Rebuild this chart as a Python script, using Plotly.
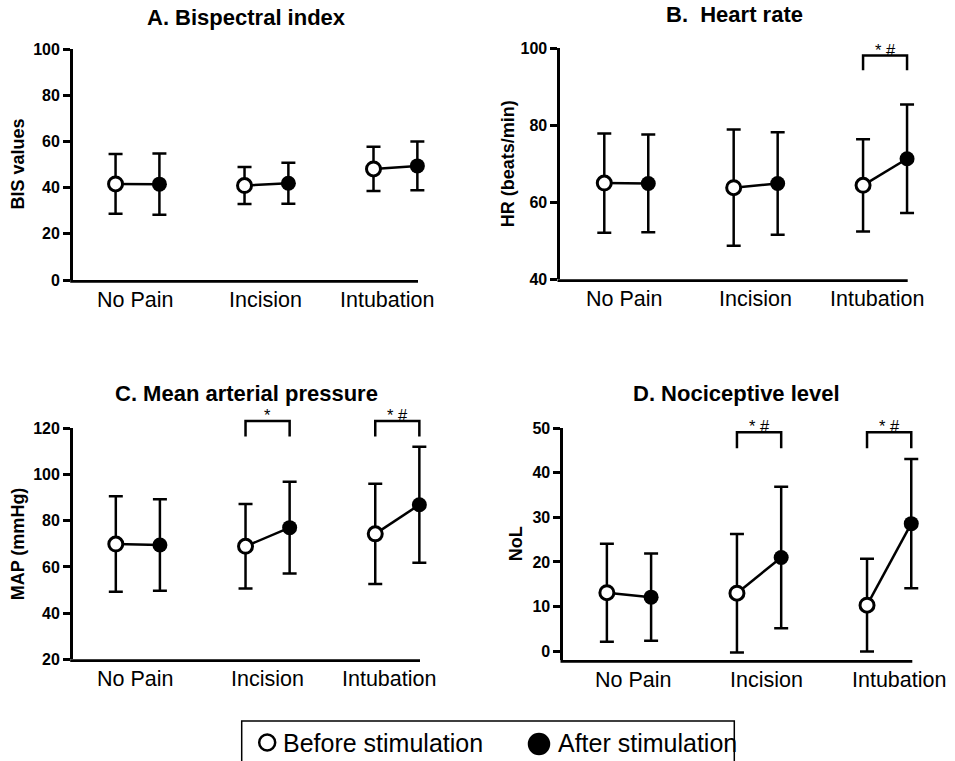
import plotly.graph_objects as go

# ---------------- data ----------------
categories = ["No Pain", "Incision", "Intubation"]

bis_before_mean = [41.6, 40.9, 48.1]
bis_before_sd = [12.9, 8.0, 9.6]
bis_after_mean = [41.5, 41.9, 49.4]
bis_after_sd = [13.3, 8.9, 10.6]

hr_before_mean = [65.0, 63.8, 64.4]
hr_before_sd = [12.9, 15.1, 12.0]
hr_after_mean = [64.9, 64.9, 71.3]
hr_after_sd = [12.7, 13.3, 14.1]

map_before_mean = [69.9, 68.9, 74.3]
map_before_sd = [20.7, 18.3, 21.7]
map_after_mean = [69.5, 77.0, 86.9]
map_after_sd = [19.8, 19.9, 25.1]

nol_before_mean = [13.1, 13.0, 10.3]
nol_before_sd = [11.0, 13.3, 10.4]
nol_after_mean = [12.1, 21.0, 28.6]
nol_after_sd = [9.8, 15.9, 14.5]

panel_titles = ["A. Bispectral index", "B.\u00a0 Heart rate",
                "C. Mean arterial pressure", "D. Nociceptive level"]
y_titles = ["BIS values", "HR (beats/min)", "MAP (mmHg)", "NoL"]
y_ranges = [[0, 100], [40, 100], [20, 120], [-2, 50]]
y_ticks = [[0, 20, 40, 60, 80, 100], [40, 60, 80, 100],
           [20, 40, 60, 80, 100, 120], [0, 10, 20, 30, 40, 50]]

# significance marks: category index -> label
sig_B = {2: "* #"}
sig_C = {1: "*", 2: "* #"}
sig_D = {1: "* #", 2: "* #"}
# bracket top / leg-end levels in data units
bracket_B = [98.1, 94.3]
bracket_C = [123.2, 116.4]
bracket_D = [49.1, 45.5]

legend_labels = ["Before stimulation", "After stimulation"]

# ---------------- layout geometry ----------------
W, H = 955, 761
FONT = "Liberation Sans, Arial, sans-serif"
OFF = 0.17   # before/after offset around category centre
LW = 2.8     # axis line width
EXTRA = 12   # px of plot area beyond the drawn x-axis line (room for caps)

panels = [
    dict(before=(bis_before_mean, bis_before_sd), after=(bis_after_mean, bis_after_sd),
         sig={}, br=None, px=(73, 418), py=(49, 280), xr=[-0.5, 2.175],
         title_xy=(246, 17), ytitle_x=17, lab_shift=[-2, -1, -8]),
    dict(before=(hr_before_mean, hr_before_sd), after=(hr_after_mean, hr_after_sd),
         sig=sig_B, br=bracket_B, px=(560.3, 907.7), py=(48.3, 279.3), xr=[-0.51, 2.175],
         title_xy=(734, 15), ytitle_x=507.5, lab_shift=[-2, 0, -8]),
    dict(before=(map_before_mean, map_before_sd), after=(map_after_mean, map_after_sd),
         sig=sig_C, br=bracket_C, px=(73, 420), py=(428.3, 659.3), xr=[-0.5, 2.175],
         title_xy=(246.7, 393), ytitle_x=17.5, lab_shift=[-2, 0, -8]),
    dict(before=(nol_before_mean, nol_before_sd), after=(nol_after_mean, nol_after_sd),
         sig=sig_D, br=bracket_D, px=(563.3, 912.3), py=(428.3, 660), xr=[-0.505, 2.178],
         title_xy=(736.7, 393), ytitle_x=516, lab_shift=[5, 7, 10]),
]

fig = go.Figure()
annotations = []
shapes = []

for k, p in enumerate(panels):
    sfx = "" if k == 0 else str(k + 1)
    xa, ya = "x" + sfx, "y" + sfx
    idx = list(range(len(categories)))
    xb = [i - OFF for i in idx]
    xf = [i + OFF for i in idx]
    bm, bs = p["before"]
    am, as_ = p["after"]

    # connecting lines within each category
    lx, ly = [], []
    for i in idx:
        lx += [xb[i], xf[i], None]
        ly += [bm[i], am[i], None]
    fig.add_trace(go.Scatter(x=lx, y=ly, mode="lines", xaxis=xa, yaxis=ya,
                             line=dict(color="black", width=2.5),
                             showlegend=False, hoverinfo="skip", cliponaxis=False))
    # before (open)
    fig.add_trace(go.Scatter(x=xb, y=bm, mode="markers", xaxis=xa, yaxis=ya,
                             error_y=dict(type="data", array=bs, color="black",
                                          thickness=2.5, width=7),
                             marker=dict(symbol="circle", size=14, color="white",
                                         line=dict(color="black", width=3)),
                             showlegend=False, cliponaxis=False))
    # after (filled)
    fig.add_trace(go.Scatter(x=xf, y=am, mode="markers", xaxis=xa, yaxis=ya,
                             error_y=dict(type="data", array=as_, color="black",
                                          thickness=2.5, width=7),
                             marker=dict(symbol="circle", size=15, color="black",
                                         line=dict(color="black", width=0)),
                             showlegend=False, cliponaxis=False))

    x0, x1 = p["px"]
    ytop, ybot = p["py"]
    r0, r1 = p["xr"]
    r1e = r1 + EXTRA * (r1 - r0) / (x1 - x0)
    xdom = [x0 / W, (x1 + EXTRA) / W]
    ydom = [1 - ybot / H, 1 - ytop / H]
    common = dict(showgrid=False, zeroline=False, mirror=False, automargin=False)
    fig.update_layout(**{
        ("xaxis" + sfx): dict(domain=xdom, range=[r0, r1e], anchor=ya,
                              showline=False, showticklabels=False, ticks="", **common),
        ("yaxis" + sfx): dict(domain=ydom, range=y_ranges[k], anchor=xa,
                              showline=True, linecolor="black", linewidth=LW,
                              tickvals=y_ticks[k], ticks="outside", ticklen=7,
                              tickwidth=2.5, tickcolor="black",
                              tickfont=dict(family=FONT, size=16, color="black",
                                            weight="bold"),
                              **common),
    })
    # x axis line (ends at the last data column, like the original)
    yl = 1 - (ybot + LW / 2) / H
    shapes.append(dict(type="line", xref="paper", yref="paper",
                       x0=(x0 - LW) / W, x1=x1 / W, y0=yl, y1=yl,
                       line=dict(color="black", width=LW)))

    # category labels
    for i, c in enumerate(categories):
        annotations.append(dict(x=i, y=0, xref=xa, yref=ya + " domain", text=c,
                                showarrow=False, xanchor="center", yanchor="middle",
                                yshift=-20, xshift=p["lab_shift"][i],
                                font=dict(family=FONT, size=21.5, color="black")))
    # panel title
    tx, ty = p["title_xy"]
    annotations.append(dict(x=tx / W, y=1 - ty / H, xref="paper", yref="paper",
                            text="<b>" + panel_titles[k] + "</b>", showarrow=False,
                            xanchor="center", yanchor="middle", borderpad=0,
                            font=dict(family=FONT, size=22, color="black")))
    # y axis title
    annotations.append(dict(x=p["ytitle_x"] / W, y=1 - (ytop + ybot) / 2 / H,
                            xref="paper", yref="paper", textangle=-90,
                            text="<b>" + y_titles[k] + "</b>", showarrow=False,
                            xanchor="center", yanchor="middle",
                            font=dict(family=FONT, size=18, color="black")))
    # significance brackets
    if p["br"] is not None:
        lo, hi = y_ranges[k]
        ft = (p["br"][0] - lo) / (hi - lo)
        fl = (p["br"][1] - lo) / (hi - lo)
        for i, lab in p["sig"].items():
            shapes.append(dict(type="path", xref=xa, yref=ya + " domain",
                               path=f"M {xb[i]},{fl} L {xb[i]},{ft} L {xf[i]},{ft} L {xf[i]},{fl}",
                               line=dict(color="black", width=2.5)))
            annotations.append(dict(x=i, y=ft, xref=xa, yref=ya + " domain",
                                    text=lab, showarrow=False, xanchor="center",
                                    yanchor="bottom", yshift=-4, borderpad=0,
                                    font=dict(family=FONT, size=16.5, color="black")))

# ---------------- legend (drawn manually) ----------------
shapes.append(dict(type="rect", xref="paper", yref="paper",
                   x0=241.7 / W, x1=734.3 / W, y0=-0.05, y1=1 - 721 / H,
                   line=dict(color="black", width=1.5), fillcolor="rgba(0,0,0,0)"))
for cx, cy, r, fill in [(267.2, 742.5, 8, "white"), (539, 744, 10, "black")]:
    shapes.append(dict(type="circle", xref="paper", yref="paper",
                       xsizemode="pixel", ysizemode="pixel",
                       xanchor=cx / W, yanchor=1 - cy / H,
                       x0=-r, x1=r, y0=-r, y1=r,
                       fillcolor=fill, line=dict(color="black", width=2.5)))
for tx, lab in [(281.7, legend_labels[0]), (556.7, legend_labels[1])]:
    annotations.append(dict(x=tx / W, y=1 - 743 / H, xref="paper", yref="paper",
                            text=lab, showarrow=False, xanchor="left",
                            yanchor="middle", borderpad=0,
                            font=dict(family=FONT, size=25, color="black")))

fig.update_layout(width=W, height=H,
                  margin=dict(l=0, r=0, t=0, b=0, pad=0, autoexpand=False),
                  paper_bgcolor="white", plot_bgcolor="white",
                  annotations=annotations, shapes=shapes, showlegend=False,
                  font=dict(family=FONT, color="black"))

fig.write_html("out.html")
